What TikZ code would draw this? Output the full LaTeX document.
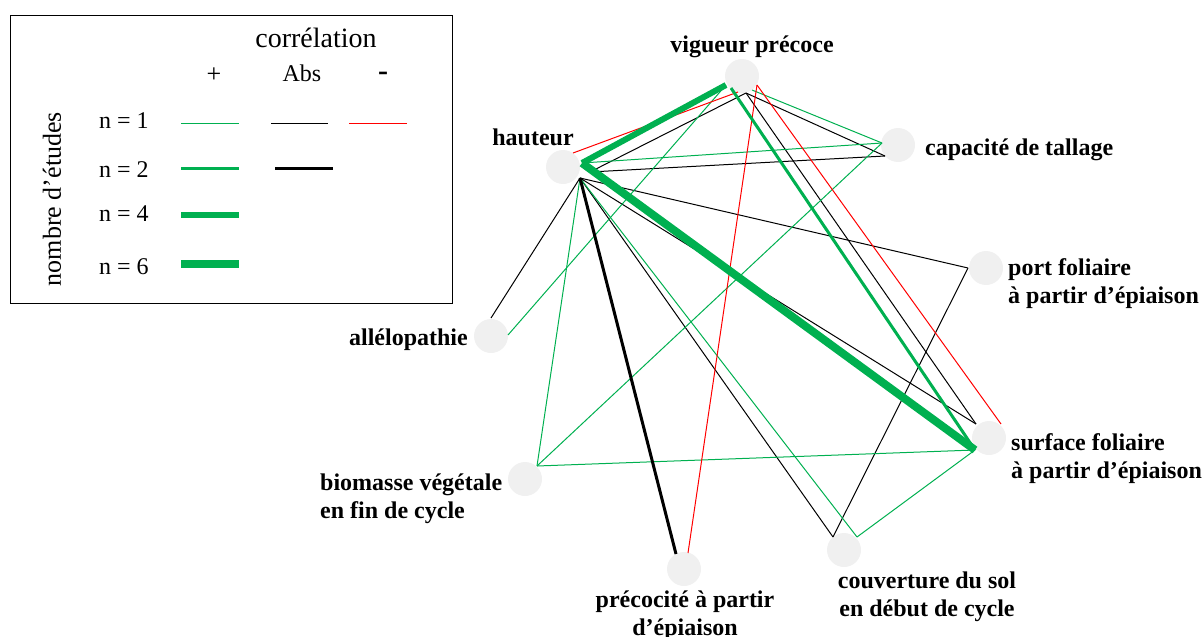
\documentclass[tikz,border=0pt]{standalone}
\usepackage{fontspec}
\setmainfont{Liberation Serif}
\definecolor{vert}{RGB}{0,176,80}
\definecolor{rouge}{RGB}{255,0,0}
\definecolor{disque}{RGB}{240,240,240}
\newcommand\gauche[2]{\begin{tabular}[t]{@{}l@{}}#1\\#2\end{tabular}}
\newcommand\centre[2]{\begin{tabular}[t]{@{}c@{}}#1\\#2\end{tabular}}
\tikzset{
  pt/.style={circle,fill=disque,minimum size=34pt,inner sep=0pt,outer sep=0pt},
  lab/.style={font=\fontsize{24}{28}\selectfont\bfseries,inner sep=0pt},
  leg/.style={font=\fontsize{24}{28}\selectfont,inner sep=0pt},
  pos1/.style={draw=vert,line width=1pt},
  pos2/.style={draw=vert,line width=3pt},
  pos4/.style={draw=vert,line width=6pt},
  pos6/.style={draw=vert,line width=8pt},
  abs1/.style={draw=black,line width=1pt},
  abs2/.style={draw=black,line width=3pt},
  neg1/.style={draw=rouge,line width=1pt},
}
\begin{document}
\begin{tikzpicture}[x=1pt,y=-1pt]
\useasboundingbox (0,0) rectangle (1203,637);

% ---------- legend ----------
\node[draw,line width=1pt,minimum width=442pt,minimum height=288pt,inner sep=0pt,anchor=north west] (legbox) at (10,15) {};
\node[leg,font=\fontsize{28}{32}\selectfont,anchor=base] (corr) at (316,47) {corrélation};
\node[leg,font=\fontsize{26}{30}\selectfont,anchor=base] (plus) at (214,82) {+};
\node[leg,anchor=base] (abs) at (302,81) {Abs};
\node[leg,font=\fontsize{30}{34}\selectfont\bfseries,anchor=base] (moins) at (383,80) {-};
\node[leg,font=\fontsize{26}{30}\selectfont,rotate=90] (nb) at (52,199) {nombre d’études};
\node[leg,anchor=base west] (n1) at (99,128) {n = 1};
\node[leg,anchor=base west] (n2) at (99,177) {n = 2};
\node[leg,anchor=base west] (n4) at (99,221) {n = 4};
\node[leg,anchor=base west] (n6) at (99,274) {n = 6};
\coordinate (l1a) at (181,123.5); \coordinate (l1b) at (239,123.5);
\coordinate (l1c) at (271,123.5); \coordinate (l1d) at (328,123.5);
\coordinate (l1e) at (349,123.5); \coordinate (l1f) at (407,123.5);
\coordinate (l2a) at (181,168.5); \coordinate (l2b) at (239,168.5);
\coordinate (l2c) at (275,168.5); \coordinate (l2d) at (333,168.5);
\coordinate (l4a) at (181,215); \coordinate (l4b) at (239,215);
\coordinate (l6a) at (181,264); \coordinate (l6b) at (239,264);
\draw[pos1] (l1a) -- (l1b);
\draw[abs1] (l1c) -- (l1d);
\draw[neg1] (l1e) -- (l1f);
\draw[pos2] (l2a) -- (l2b);
\draw[abs2] (l2c) -- (l2d);
\draw[pos4] (l4a) -- (l4b);
\draw[pos6] (l6a) -- (l6b);

% ---------- nodes ----------
\node[pt] (hau)  at (563,167) {};
\node[pt] (vig)  at (742,76)  {};
\node[pt] (cap)  at (898,145) {};
\node[pt] (port) at (986,268) {};
\node[pt] (alle) at (491,336) {};
\node[pt] (bio)  at (525,479) {};
\node[pt] (surf) at (989,438) {};
\node[pt] (prec) at (684,569) {};
\node[pt] (couv) at (844,550) {};

\node[lab,anchor=base] (t-vig) at (752,52) {vigueur précoce};
\node[lab,anchor=base] (t-hau) at (533,145) {hauteur};
\node[lab,anchor=base west] (t-cap) at (925,155) {capacité de tallage};
\node[lab,anchor=base west] (t-port) at (1008,275) {\gauche{port foliaire}{à partir d’épiaison}};
\node[lab,anchor=base west] (t-surf) at (1011,450) {\gauche{surface foliaire}{à partir d’épiaison}};
\node[lab,anchor=base east] (t-alle) at (468,345) {allélopathie};
\node[lab,anchor=base west] (t-bio) at (320,490) {\gauche{biomasse végétale}{en fin de cycle}};
\node[lab,anchor=base] (t-prec) at (685,607) {\centre{précocité à partir}{d’épiaison}};
\node[lab,anchor=base] (t-couv) at (927,588) {\centre{couverture du sol}{en début de cycle}};

% ---------- connector ends ----------
\coordinate (hauG)  at ([shift={(19,-4)}]hau.center);
\coordinate (hauR)  at ([shift={(10,-14)}]hau.center);
\coordinate (hauB)  at ([shift={(27,5)}]hau.center);
\coordinate (hauD)  at ([shift={(17,11)}]hau.center);
\coordinate (vigG)  at ([shift={(-16,9)}]vig.center);
\coordinate (vigG2) at ([shift={(-11,12)}]vig.center);
\coordinate (vigR)  at ([shift={(-4,16)}]vig.center);
\coordinate (vigB)  at ([shift={(4,17)}]vig.center);
\coordinate (vigR2) at ([shift={(15,9)}]vig.center);
\coordinate (vigG3) at ([shift={(10,14)}]vig.center);
\coordinate (capG)  at ([shift={(-16,-2)}]cap.center);
\coordinate (capB)  at ([shift={(-13,11)}]cap.center);
\coordinate (portB) at ([shift={(-18,0)}]port.center);
\coordinate (surfB) at ([shift={(-13,-14)}]surf.center);
\coordinate (surfR) at ([shift={(12,-14)}]surf.center);
\coordinate (surfG) at ([shift={(-14,12)}]surf.center);
\coordinate (alleB) at ([shift={(0,-18)}]alle.center);
\coordinate (alleG) at ([shift={(17,-1)}]alle.center);
\coordinate (bioG)  at ([shift={(12,-13)}]bio.center);
\coordinate (precB) at ([shift={(-8,-15)}]prec.center);
\coordinate (precR) at ([shift={(4,-16)}]prec.center);
\coordinate (couvB) at ([shift={(-11,-13)}]couv.center);
\coordinate (couvG) at ([shift={(13,-13)}]couv.center);

% ---------- connectors ----------
% black, n = 1
\draw[abs1] (hauB) -- (vigB);
\draw[abs1] (hauB) -- (capB);
\draw[abs1] (vigB) -- (capB);
\draw[abs1] (vigB) -- (surfB);
\draw[abs1] (hauD) -- (surfB);
\draw[abs1] (hauD) -- (portB);
\draw[abs1] (hauD) -- (alleB);
\draw[abs1] (hauD) -- (couvB);
\draw[abs1] (couvB) -- (portB);
% green, n = 1
\draw[pos1] (hauG) -- (capG);
\draw[pos1] (vigG3) -- (capG);
\draw[pos1] (vigG) -- (alleG);
\draw[pos1] (capG) -- (bioG);
\draw[pos1] (hauD) -- (bioG);
\draw[pos1] (hauD) -- (couvG);
\draw[pos1] (bioG) -- (surfG);
\draw[pos1] (couvG) -- (surfG);
% red, n = 1
\draw[neg1] (hauR) -- (vigR);
\draw[neg1] (vigR2) -- (precR);
\draw[neg1] (vigR2) -- (surfR);
% thicker
\draw[abs2] (hauD) -- (precB);
\draw[pos2] (vigG2) -- (surfG);
\draw[pos4] (hauG) -- (vigG);
\draw[pos6] (hauG) -- (surfG);
\end{tikzpicture}
\end{document}
